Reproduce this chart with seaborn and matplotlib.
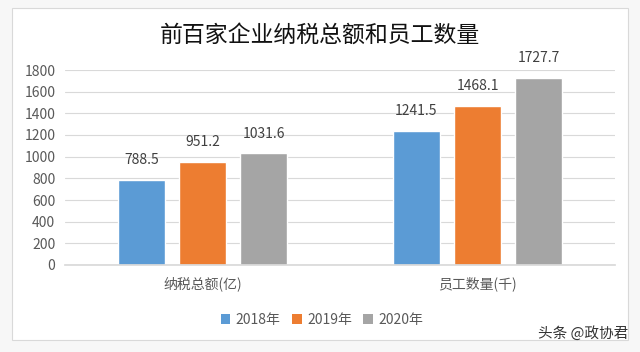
import matplotlib
matplotlib.use("Agg")
import matplotlib.pyplot as plt
import seaborn as sns
import pandas as pd
from matplotlib.patches import Rectangle, Patch

categories = ["纳税总额(亿)", "员工数量(千)"]
years = ["2018年", "2019年", "2020年"]
v2018 = [788.5, 1241.5]
v2019 = [951.2, 1468.1]
v2020 = [1031.6, 1727.7]
colors = ["#5B9BD5", "#ED7D31", "#A5A5A5"]
yticks = [0, 200, 400, 600, 800, 1000, 1200, 1400, 1600, 1800]

rows = []
for y, vals in zip(years, [v2018, v2019, v2020]):
    for c, v in zip(categories, vals):
        rows.append({"cat": c, "year": y, "val": v})
df = pd.DataFrame(rows)

sns.set_theme(style="white")
plt.rcParams["font.family"] = ["Noto Sans CJK SC", "DejaVu Sans"]

fig = plt.figure(figsize=(6.4, 3.52), dpi=100)
fig.patch.set_facecolor("#f7f7f7")
fig.patches.append(Rectangle((12/640, 1-340/352), 616/640, 332/352, transform=fig.transFigure,
                             facecolor="white", edgecolor="#d9d9d9", lw=0.8, zorder=-10))

ax = fig.add_axes([65/640, 1-265/352, 550/640, 195/352])
ax.set_zorder(5)
ax.set_facecolor("none")
sns.barplot(data=df, x="cat", y="val", hue="year", palette=colors, width=0.667, gap=0.23,
            ax=ax, legend=False, saturation=1)
ax.set_xlim(-0.5, 1.5)
ax.set_ylim(0, 1800)
ax.set_yticks(yticks)
ax.yaxis.grid(True, color="#d9d9d9", lw=0.8)
ax.set_axisbelow(True)
for s in ax.spines.values():
    s.set_visible(False)
ax.spines["bottom"].set_visible(True)
ax.spines["bottom"].set_color("#d9d9d9")
ax.tick_params(axis="y", length=0, pad=7, labelsize=10, labelcolor="#595959")
ax.tick_params(axis="x", length=0, pad=8, labelsize=10, labelcolor="#595959")
ax.set_xlabel("")
ax.set_ylabel("")

for cont in ax.containers:
    ax.bar_label(cont, labels=[f"{v:.1f}" for v in cont.datavalues], padding=9,
                 fontsize=10, color="#404040")

fig.text(0.5, 1-35/352, "前百家企业纳税总额和员工数量", ha="center", va="center",
         fontsize=16.5, color="#111111", fontweight="medium")

handles = [Patch(facecolor=c, edgecolor="none") for c in colors]
fig.legend(handles, years, loc="center", bbox_to_anchor=(322/640, 1-320/352), ncol=3,
           frameon=False, fontsize=10, handlelength=0.7, handleheight=0.7,
           columnspacing=0.8, handletextpad=0.4, labelcolor="#595959")

fig.text(583/640, 1-333/352, "头条 @政协君", ha="center", va="center", fontsize=10.5,
         color="#333333")

fig.savefig("out.png", dpi=100)
